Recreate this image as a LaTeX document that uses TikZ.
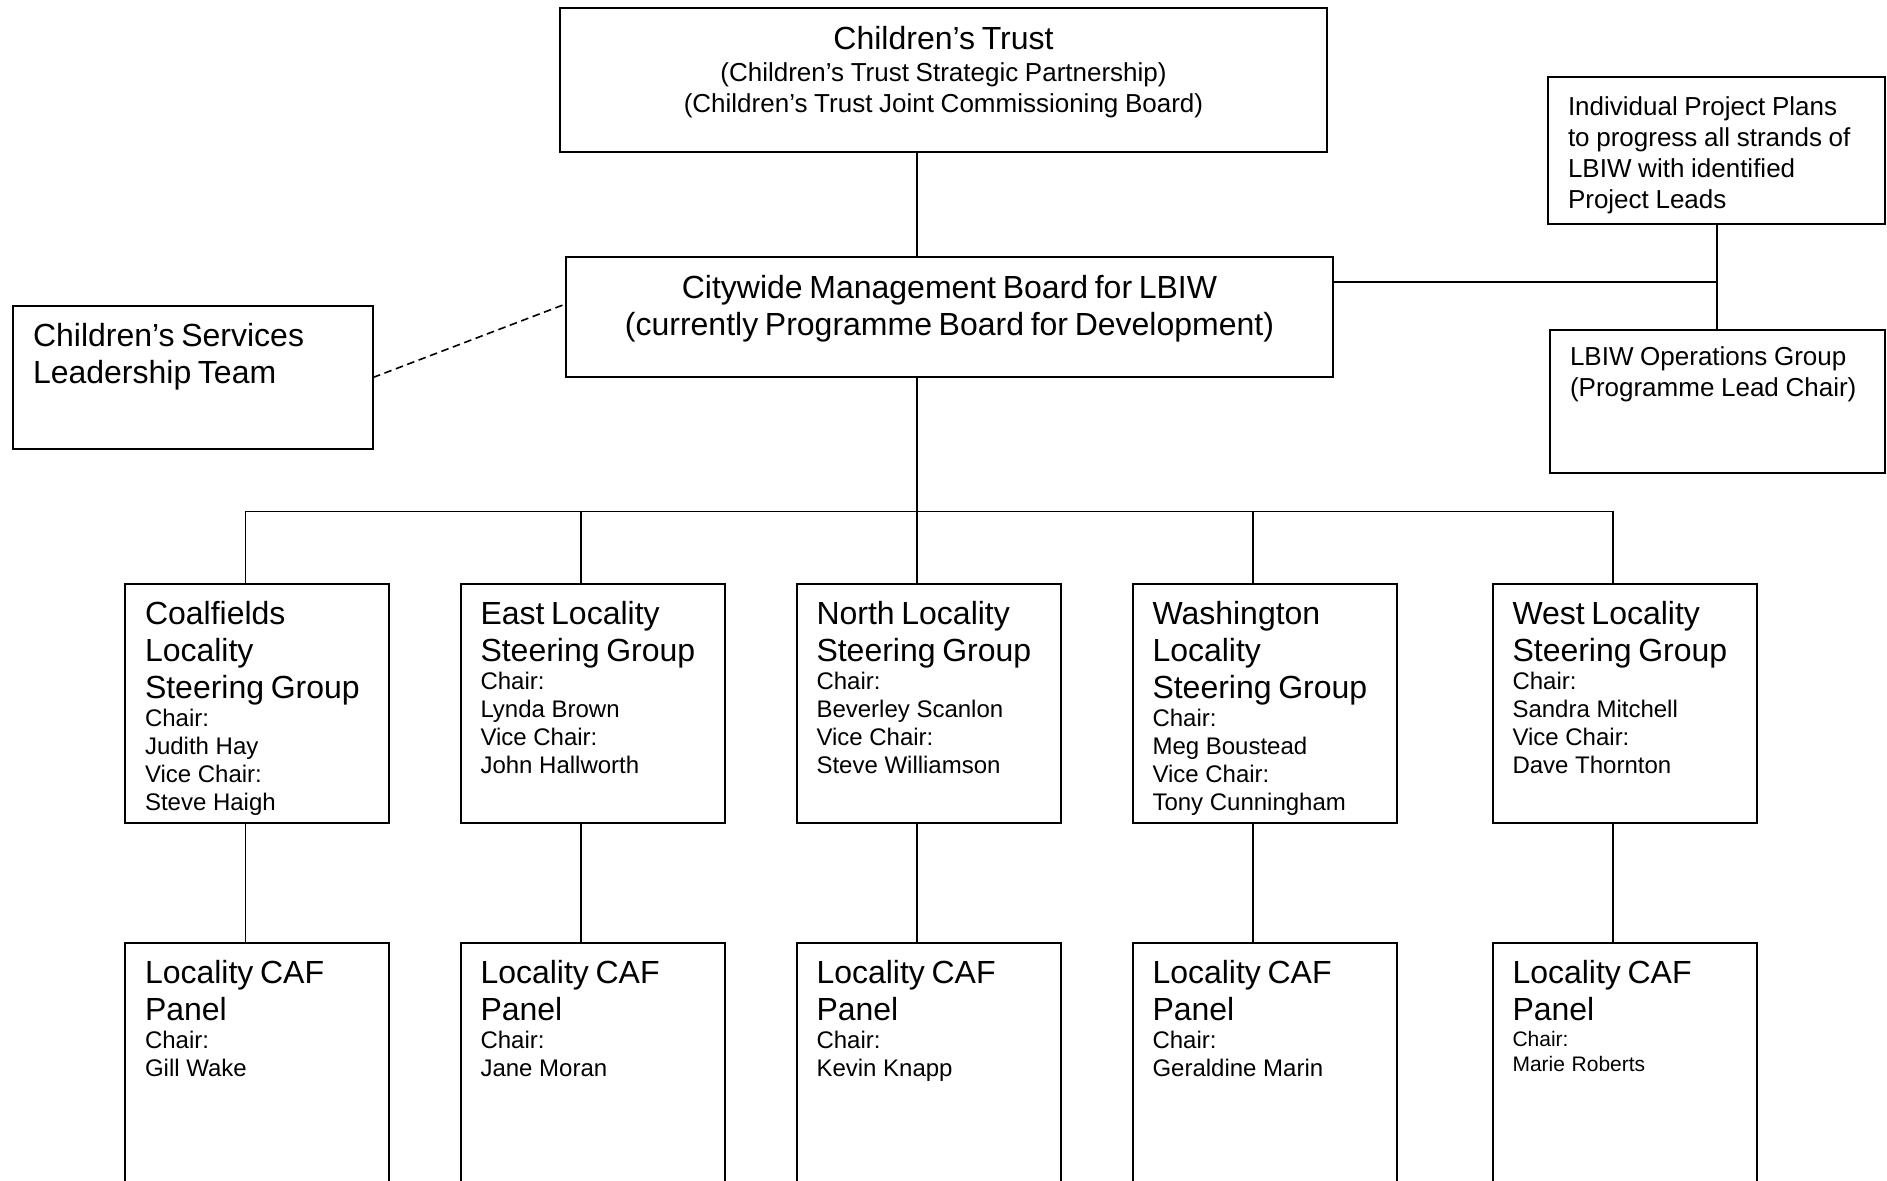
\documentclass[tikz,border=0pt]{standalone}
\usepackage{fontspec}
\setmainfont{Liberation Sans}
\newcommand*{\HeadFont}{\fontsize{16pt}{18.5pt}\selectfont}
\newcommand*{\SubFont}{\fontsize{13pt}{15.5pt}\selectfont}
\newcommand*{\NameFont}{\fontsize{12pt}{14pt}\selectfont}
\newcommand*{\SmallNameFont}{\fontsize{10.5pt}{12.8pt}\selectfont}
\tikzset{
  % For the outline of every group on the chart.
  orgbox/.style={
    draw,
    line width=1pt,
    inner sep=0pt,
    outer sep=0pt,
    anchor=north west},
%
  % For text hung from the top left corner of a box.
  boxtext/.style={
    inner sep=0pt,
    outer sep=0pt,
    anchor=north west,
    align=left,
    xshift=10pt,
    yshift=-8.5pt},
%
  % For text centred under the top edge of a box.
  midtext/.style={
    inner sep=0pt,
    outer sep=0pt,
    anchor=north,
    align=center,
    yshift=-8.3pt},
%
  % For the solid reporting lines.
  link/.style={
    line width=0.9pt},
%
  % For the looser, dashed relation.
  loose link/.style={
    link,
    line width=0.8pt,
    dash pattern=on 3.8pt off 2.3pt}
}

\begin{document}
\begin{tikzpicture}[x=0.5pt, y=-0.5pt]
  \fill[white] (0,0) rectangle (1887,1181);
  \path[use as bounding box, clip] (0,0) rectangle (1887,1181);

  % Top of the chart
  \node[orgbox, minimum width=383.5pt, minimum height=72pt] (trust) at (560,8) {};
  \node[midtext, text width=370pt, yshift=-0.8pt] (trust-text) at (trust.north)
    {{\HeadFont Children's Trust\par}%
     {\fontsize{13pt}{16.3pt}\selectfont (Children's Trust Strategic Partnership)\par}%
     {\SubFont (Children's Trust Joint Commissioning Board)\par}};

  \node[orgbox, minimum width=383.5pt, minimum height=59.75pt] (board) at (566,257.5) {};
  \node[midtext, text width=370pt, yshift=-0.6pt] (board-text) at (board.north)
    {\HeadFont Citywide Management Board for LBIW\\(currently Programme Board for Development)\par};

  \node[orgbox, minimum width=180pt, minimum height=71.5pt] (cslt) at (13,306) {};
  \node[boxtext, text width=165pt] (cslt-text) at (cslt.north west)
    {\HeadFont Children's Services\\Leadership Team\par};

  \node[orgbox, minimum width=168.5pt, minimum height=73.5pt] (plans) at (1548,77) {};
  \node[boxtext, text width=155pt, yshift=-1.2pt] (plans-text) at (plans.north west)
    {\SubFont Individual Project Plans\\to progress all strands of\\LBIW with identified\\Project Leads\par};

  \node[orgbox, minimum width=167.5pt, minimum height=71.5pt] (ops) at (1550,330) {};
  \node[boxtext, text width=155pt] (ops-text) at (ops.north west)
    {\SubFont LBIW Operations Group\\(Programme Lead Chair)\par};

  % Junctions of the connectors
  \coordinate (spine) at (917,511.5);
  \coordinate (tee) at (1717,282);

  \draw[link] (trust.south -| spine) -- (board.north -| spine);
  \draw[link] (board.south -| spine) -- (spine);
  \draw[link] (board.east |- tee) -- (tee);
  \draw[link] (plans.south -| tee) -- (ops.north -| tee);
  \draw[loose link] (cslt.east) -- (board.178);

  % Localities: steering group above, CAF panel below
  \foreach \cx/\steer/\chairs/\cafname/\nf [count=\i] in {
      245.5/{Coalfields\\Locality\\Steering Group}/{Chair:\\Judith Hay\\Vice Chair:\\Steve Haigh}/Gill Wake/\NameFont,
      581/{East Locality\\Steering Group}/{Chair:\\Lynda Brown\\Vice Chair:\\John Hallworth}/Jane Moran/\NameFont,
      917/{North Locality\\Steering Group}/{Chair:\\Beverley Scanlon\\Vice Chair:\\Steve Williamson}/Kevin Knapp/\NameFont,
      1253/{Washington\\Locality\\Steering Group}/{Chair:\\Meg Boustead\\Vice Chair:\\Tony Cunningham}/Geraldine Marin/\NameFont,
      1613/{West Locality\\Steering Group}/{Chair:\\Sandra Mitchell\\Vice Chair:\\Dave Thornton}/Marie Roberts/\SmallNameFont}
    {\coordinate (drop\i) at (\cx,511.5);
     \node[orgbox, minimum width=132pt, minimum height=119.5pt] (steer\i) at (\cx-120.5,584) {};
     \node[boxtext, text width=121pt] (steer\i-text) at (steer\i.north west)
       {{\HeadFont \steer\par}{\NameFont \chairs\par}};

     \node[orgbox, minimum width=132pt, minimum height=130pt] (caf\i) at (\cx-120.5,943.5) {};
     \node[boxtext, text width=121pt] (caf\i-text) at (caf\i.north west)
       {{\HeadFont Locality CAF\\Panel\par}{\nf Chair:\\\cafname\par}};

     \draw[link] (drop\i) -- (steer\i.north -| drop\i);
     \draw[link] (steer\i.south -| drop\i) -- (caf\i.north -| drop\i);
    }

  \draw[link] (drop1) -- (drop5);
\end{tikzpicture}
\end{document}
